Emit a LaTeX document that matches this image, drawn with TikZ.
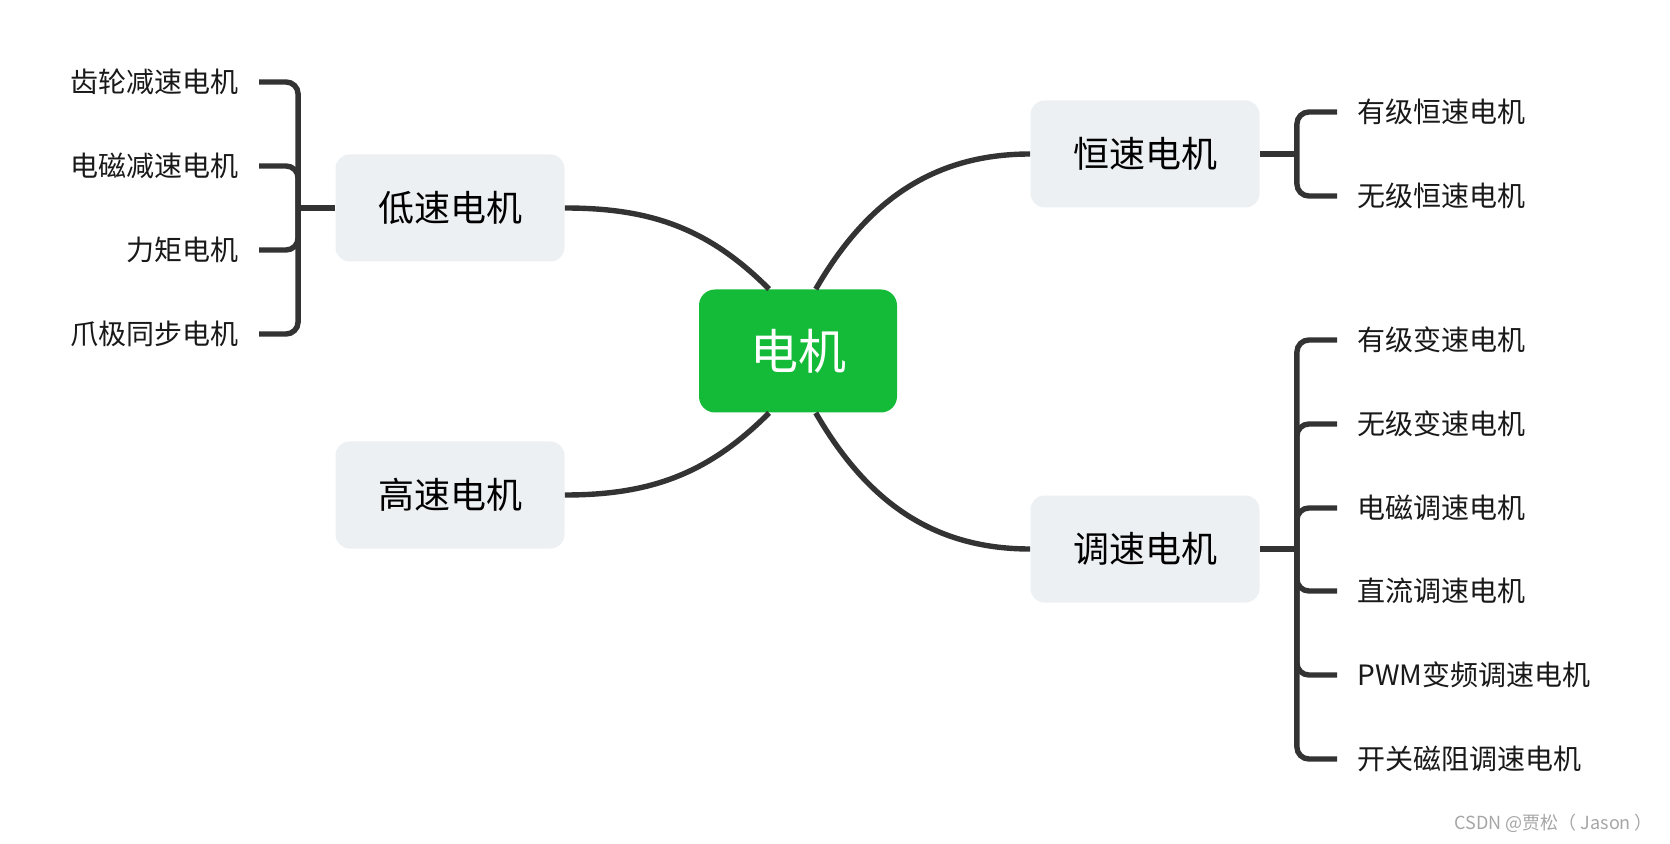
\documentclass[tikz,border=0pt]{standalone}
\usepackage{fontspec}
\setmainfont{Noto Sans CJK SC}
\usepackage{tikz}
\definecolor{linkgray}{HTML}{333333}
\definecolor{boxgray}{HTML}{EDF0F3}
\definecolor{motorgreen}{HTML}{13BB39}

\begin{document}
\begin{tikzpicture}[x=0.5pt, y=-0.5pt,
		link/.style={draw=linkgray, line width=2.7pt},
		topic/.style={rectangle, rounded corners=7pt, fill=boxgray, minimum width=114.5pt, minimum height=53.5pt, font=\fontsize{18}{22}\selectfont},
		leaf/.style={inner xsep=10pt, inner ysep=2pt, text=black!90, font=\fontsize{14}{17}\selectfont}]
	\fill[white] (0,0) rectangle (1670,844);
	\useasboundingbox (0,0) rectangle (1670,844);
	\node[rectangle, rounded corners=8pt, fill=motorgreen, text=white, minimum width=99pt, minimum height=61.5pt, font=\fontsize{24}{29}\selectfont] (motor) at (798,351) {电机};
	\node[topic] (low) at (450,208) {低速电机};
	\node[topic] (high) at (450,495) {高速电机};
	\node[topic] (const) at (1145,154) {恒速电机};
	\node[topic] (adj) at (1145,549) {调速电机};
	\node[leaf, anchor=east] (ll1) at (259,82) {齿轮减速电机};
	\node[leaf, anchor=east] (ll2) at (259,166) {电磁减速电机};
	\node[leaf, anchor=east] (ll3) at (259,250) {力矩电机};
	\node[leaf, anchor=east] (ll4) at (259,334) {爪极同步电机};
	\node[leaf, anchor=west] (cl1) at (1337,112) {有级恒速电机};
	\node[leaf, anchor=west] (cl2) at (1337,196) {无级恒速电机};
	\node[leaf, anchor=west] (al1) at (1337,340) {有级变速电机};
	\node[leaf, anchor=west] (al2) at (1337,424) {无级变速电机};
	\node[leaf, anchor=west] (al3) at (1337,508) {电磁调速电机};
	\node[leaf, anchor=west] (al4) at (1337,591) {直流调速电机};
	\node[leaf, anchor=west] (al5) at (1337,675) {PWM变频调速电机};
	\node[leaf, anchor=west] (al6) at (1337,759) {开关磁阻调速电机};
	\node[anchor=east, text=black!35, font=\fontsize{9}{11}\selectfont] (mark) at (1660,823) {CSDN @贾松（ Jason ）};
	\draw[link] (low.east) to[out=0, in=135] (motor.115);
	\draw[link] (motor.74) to[out=60, in=180] (const.west);
	\draw[link] (motor.245) to[out=-135, in=0] (high.east);
	\draw[link] (motor.286) to[out=-60, in=180] (adj.west);
	\draw[link] (low.west) -- ++(-37,0) coordinate (jl);
	\draw[link] (const.east) -- ++(37,0) coordinate (jc);
	\draw[link] (adj.east) -- ++(37,0) coordinate (ja);
	\foreach \i in {1,...,4}
		\draw[link, rounded corners=6pt] (jl) |- (ll\i.east);
	\foreach \i in {1,2}
		\draw[link, rounded corners=6pt] (jc) |- (cl\i.west);
	\foreach \i in {1,...,6}
		\draw[link, rounded corners=6pt] (ja) |- (al\i.west);
\end{tikzpicture}
\end{document}
